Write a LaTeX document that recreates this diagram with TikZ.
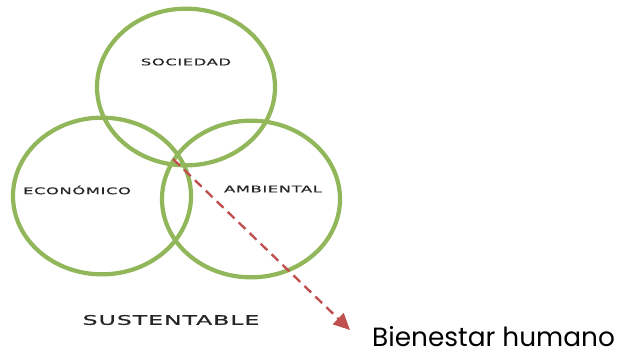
\documentclass[tikz,border=0pt]{standalone}
\usepackage{fontspec}
\setmainfont{Poppins}
\newfontfamily\widefont[FakeStretch=1.8,LetterSpace=6,FakeBold=0.6]{DejaVu Sans}
\usepackage{tikz}
\usetikzlibrary{shapes.geometric, arrows.meta}
\usepackage{xcolor}
\definecolor{ringgreen}{RGB}{146,182,90}
\definecolor{arrowred}{RGB}{192,80,77}
\tikzstyle{ring} = [ellipse, draw=ringgreen, line width=3.6pt, minimum width=5.34cm, minimum height=4.7cm, inner sep=0pt]
\tikzstyle{tag} = [font=\widefont\fontsize{7.8}{8}\selectfont, text=black!85]
\tikzstyle{arrow} = [draw=arrowred, line width=2pt, dash pattern=on 8pt off 5pt, -{Triangle[length=14pt, width=13pt]}]

\begin{document}
\begin{tikzpicture}[x=0.03cm, y=-0.03cm]
	\useasboundingbox (0,0) rectangle (629,356);
	%Sociedad
	\node[ring] (soc) at (186,87) {};
	\node[tag] (soclabel) at (186,62) {SOCIEDAD};
	%Economico
	\node[ring] (eco) at (102,196) {};
	\node[tag] (ecolabel) at (77,190) {ECONÓMICO};
	%Ambiental
	\node[ring] (amb) at (251,199) {};
	\node[tag] (amblabel) at (273,189) {AMBIENTAL};
	%Sustentable
	\node[font=\widefont\fontsize{11.3}{13}\selectfont, text=black!85] (sus) at (171,320) {SUSTENTABLE};
	%Bienestar humano
	\node[anchor=west, font=\fontsize{22.5}{26}\selectfont, inner sep=0pt] (bien) at (372,337) {Bienestar humano};
	\coordinate (start) at (173,159);
	\coordinate (tip) at (350,330);
	\draw[arrow] (start) -- (tip);
\end{tikzpicture}
\end{document}
